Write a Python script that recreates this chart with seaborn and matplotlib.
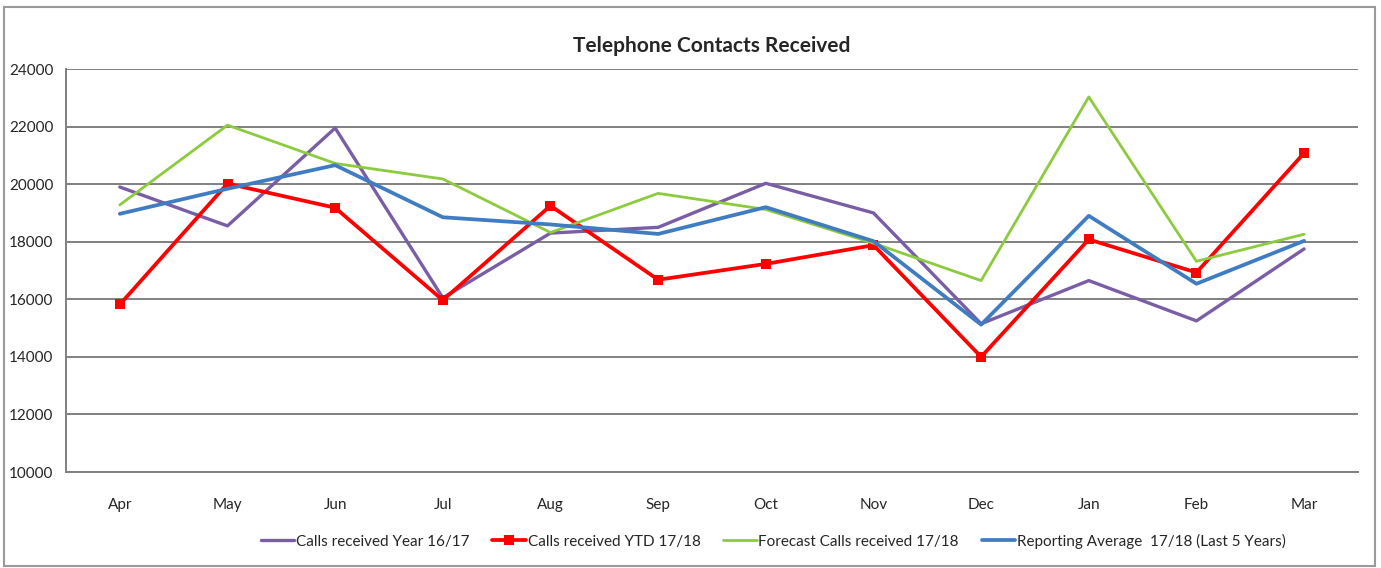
import pandas as pd
import seaborn as sns
import matplotlib.pyplot as plt
from matplotlib.patches import Rectangle
from matplotlib.ticker import FixedLocator

months = ["Apr", "May", "Jun", "Jul", "Aug", "Sep", "Oct", "Nov", "Dec", "Jan", "Feb", "Mar"]

calls_1617 = [19900, 18550, 21950, 16050, 18300, 18500, 20030, 19000, 15150, 16650, 15250, 17750]
calls_ytd_1718 = [15820, 20020, 19180, 15970, 19250, 16680, 17230, 17880, 14000, 18080, 16930, 21080]
forecast_1718 = [19280, 22050, 20720, 20180, 18320, 19680, 19120, 17950, 16650, 23030, 17320, 18260]
reporting_avg = [18970, 19840, 20660, 18850, 18600, 18270, 19200, 18020, 15120, 18900, 16540, 18030]

series_names = [
    "Calls received Year 16/17",
    "Calls received YTD 17/18",
    "Forecast Calls received 17/18",
    "Reporting Average  17/18 (Last 5 Years)",
]
series_values = [calls_1617, calls_ytd_1718, forecast_1718, reporting_avg]
colors = ["#7A5EA5", "#FF0000", "#8CCB3E", "#3F7CC2"]
widths = [2.4, 2.7, 2.0, 2.7]

sns.set_style("white")
plt.rcParams["font.family"] = ["Lato", "DejaVu Sans"]

fig = plt.figure(figsize=(13.81, 5.68), dpi=100)
ax = fig.add_axes([0.0478, 0.169, 0.9355, 0.7095])

# draw each series as a line on the categorical month axis
for name, vals, col, lw in zip(series_names, series_values, colors, widths):
    df = pd.DataFrame({"Month": months, "Calls": vals})
    marker = "s" if name == "Calls received YTD 17/18" else None
    sns.lineplot(data=df, x="Month", y="Calls", ax=ax, color=col, linewidth=lw,
                 marker=marker, markersize=7, markeredgewidth=0, sort=False, label=name)

ax.set_xlim(-0.5, len(months) - 0.5)
ax.set_ylim(10000, 24000)
ax.set_yticks(range(10000, 24001, 2000))
ax.set_xlabel("")
ax.set_ylabel("")

ax.grid(axis="y", color="#808080", linewidth=1.4)
ax.grid(axis="x", visible=False)
ax.set_axisbelow(True)
for side in ["top", "right"]:
    ax.spines[side].set_visible(False)
for side in ["left", "bottom"]:
    ax.spines[side].set_color("#808080")
    ax.spines[side].set_linewidth(1.4)

ax.tick_params(axis="y", which="major", length=5, color="#808080", width=1.2,
               labelsize=11, pad=4)
ax.tick_params(axis="x", which="major", length=0, labelsize=11, pad=19)
ax.xaxis.set_minor_locator(FixedLocator([i - 0.5 for i in range(len(months) + 1)]))
ax.tick_params(axis="x", which="minor", length=5, color="#808080", width=1.2)

ax.set_title("Telephone Contacts Received", fontsize=15, fontweight="bold", pad=12)

handles, labels = ax.get_legend_handles_labels()
ax.legend(handles, labels, loc="center", bbox_to_anchor=(0.56, 0.047),
          bbox_transform=fig.transFigure, ncol=4, frameon=False, fontsize=11,
          handlelength=2.2, handletextpad=0.1, columnspacing=1.5)

# outer chart border
fig.patches.append(Rectangle((0.003, 0.004), 0.993, 0.983, transform=fig.transFigure,
                             fill=False, edgecolor="#9a9a9a", linewidth=1.5))

fig.savefig("out.png", dpi=100)
